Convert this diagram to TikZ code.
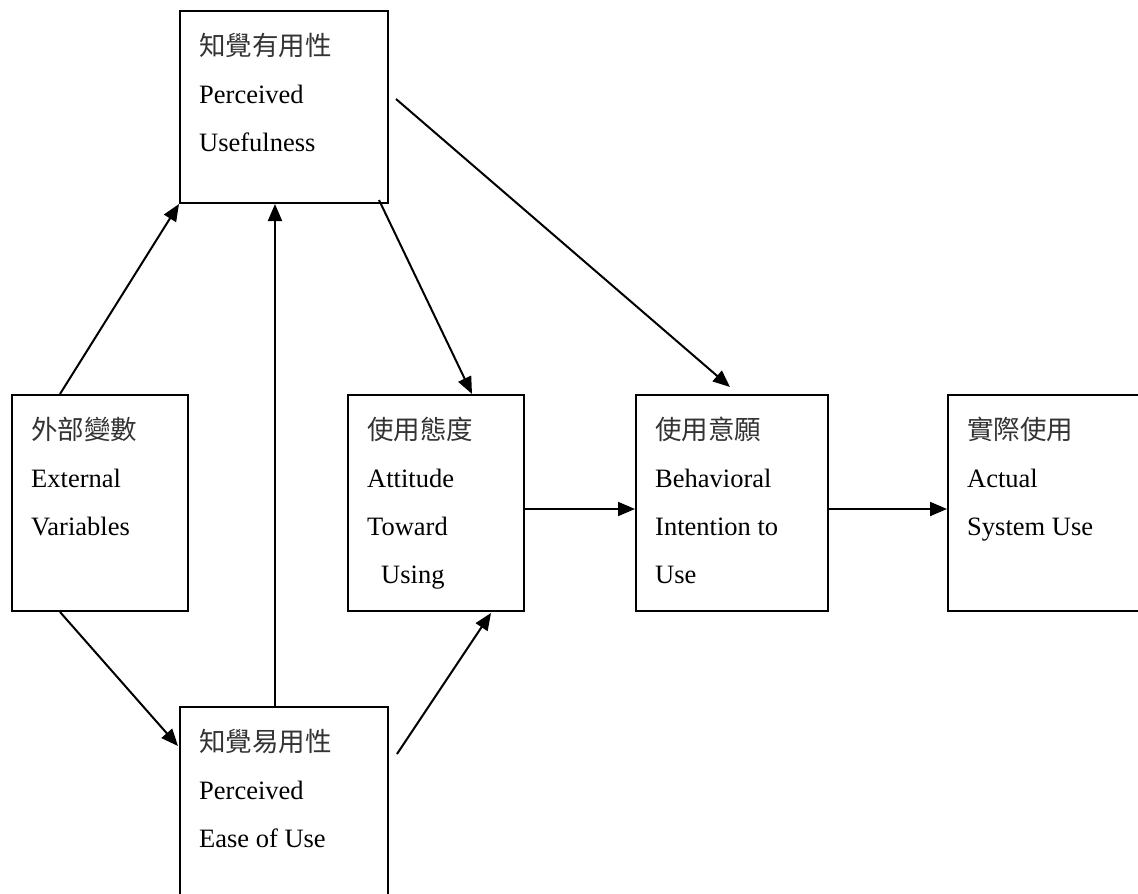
\documentclass[tikz,border=0pt]{standalone}
\usepackage{fontspec}
\setmainfont{Liberation Serif}
\newfontfamily\cjk{Noto Sans CJK TC}
\usetikzlibrary{arrows.meta,positioning}

\begin{document}
\begin{tikzpicture}[x=1pt, y=-1pt,
    box/.style={draw, line width=2pt, inner sep=0pt, anchor=north west},
    lbl/.style={anchor=north west, inner sep=0pt, align=left, font=\fontsize{26.5}{48}\selectfont},
    arr/.style={line width=2pt, -{Triangle[length=17pt, width=14pt]}}]
    \useasboundingbox (0,0) rectangle (1138,894);

    % Boxes
    \node[box, minimum width=208pt, minimum height=192pt] (pu) at (179,10) {};
    \node[box, minimum width=176pt, minimum height=216pt] (ext) at (11,394) {};
    \node[box, minimum width=176pt, minimum height=216pt] (att) at (347,394) {};
    \node[box, minimum width=192pt, minimum height=216pt] (bi) at (635,394) {};
    \node[box, minimum width=192pt, minimum height=216pt] (use) at (947,394) {};
    \node[box, minimum width=208pt, minimum height=192pt] (peou) at (179,706) {};

    % Labels
    \node[lbl] (pu-text) at ([xshift=20pt, yshift=-20pt]pu.north west)
        {{\cjk\color{black!80} 知覺有用性}\rule{0pt}{25pt}\\Perceived\\Usefulness};
    \node[lbl] (ext-text) at ([xshift=20pt, yshift=-20pt]ext.north west)
        {{\cjk\color{black!80} 外部變數}\rule{0pt}{25pt}\\External\\Variables};
    \node[lbl] (att-text) at ([xshift=20pt, yshift=-20pt]att.north west)
        {{\cjk\color{black!80} 使用態度}\rule{0pt}{25pt}\\Attitude\\Toward\\\hspace{14pt}Using};
    \node[lbl] (bi-text) at ([xshift=20pt, yshift=-20pt]bi.north west)
        {{\cjk\color{black!80} 使用意願}\rule{0pt}{25pt}\\Behavioral\\Intention to\\Use};
    \node[lbl] (use-text) at ([xshift=20pt, yshift=-20pt]use.north west)
        {{\cjk\color{black!80} 實際使用}\rule{0pt}{25pt}\\Actual\\System Use};
    \node[lbl] (peou-text) at ([xshift=20pt, yshift=-20pt]peou.north west)
        {{\cjk\color{black!80} 知覺易用性}\rule{0pt}{25pt}\\Perceived\\Ease of Use};

    % Arrows
    \draw[arr] ([xshift=49pt]ext.north west) -- (pu.south west);
    \draw[arr] ([xshift=49pt]ext.south west) -- ([xshift=-1pt, yshift=-40pt]peou.north west);
    \draw[arr] ([xshift=96pt]peou.north west) -- ([xshift=96pt]pu.south west);
    \draw[arr] ([xshift=-10pt, yshift=4pt]pu.south east) -- ([xshift=125pt]att.north west);
    \draw[arr] ([xshift=7pt, yshift=-89pt]pu.north east) -- ([xshift=95pt, yshift=7pt]bi.north west);
    \draw[arr] ([xshift=8pt, yshift=-48pt]peou.north east) -- ([xshift=144pt, yshift=-1pt]att.south west);
    \draw[arr] ([yshift=-6pt]att.east) -- ([yshift=-6pt]bi.west);
    \draw[arr] ([yshift=-6pt]bi.east) -- ([yshift=-6pt]use.west);
\end{tikzpicture}
\end{document}
